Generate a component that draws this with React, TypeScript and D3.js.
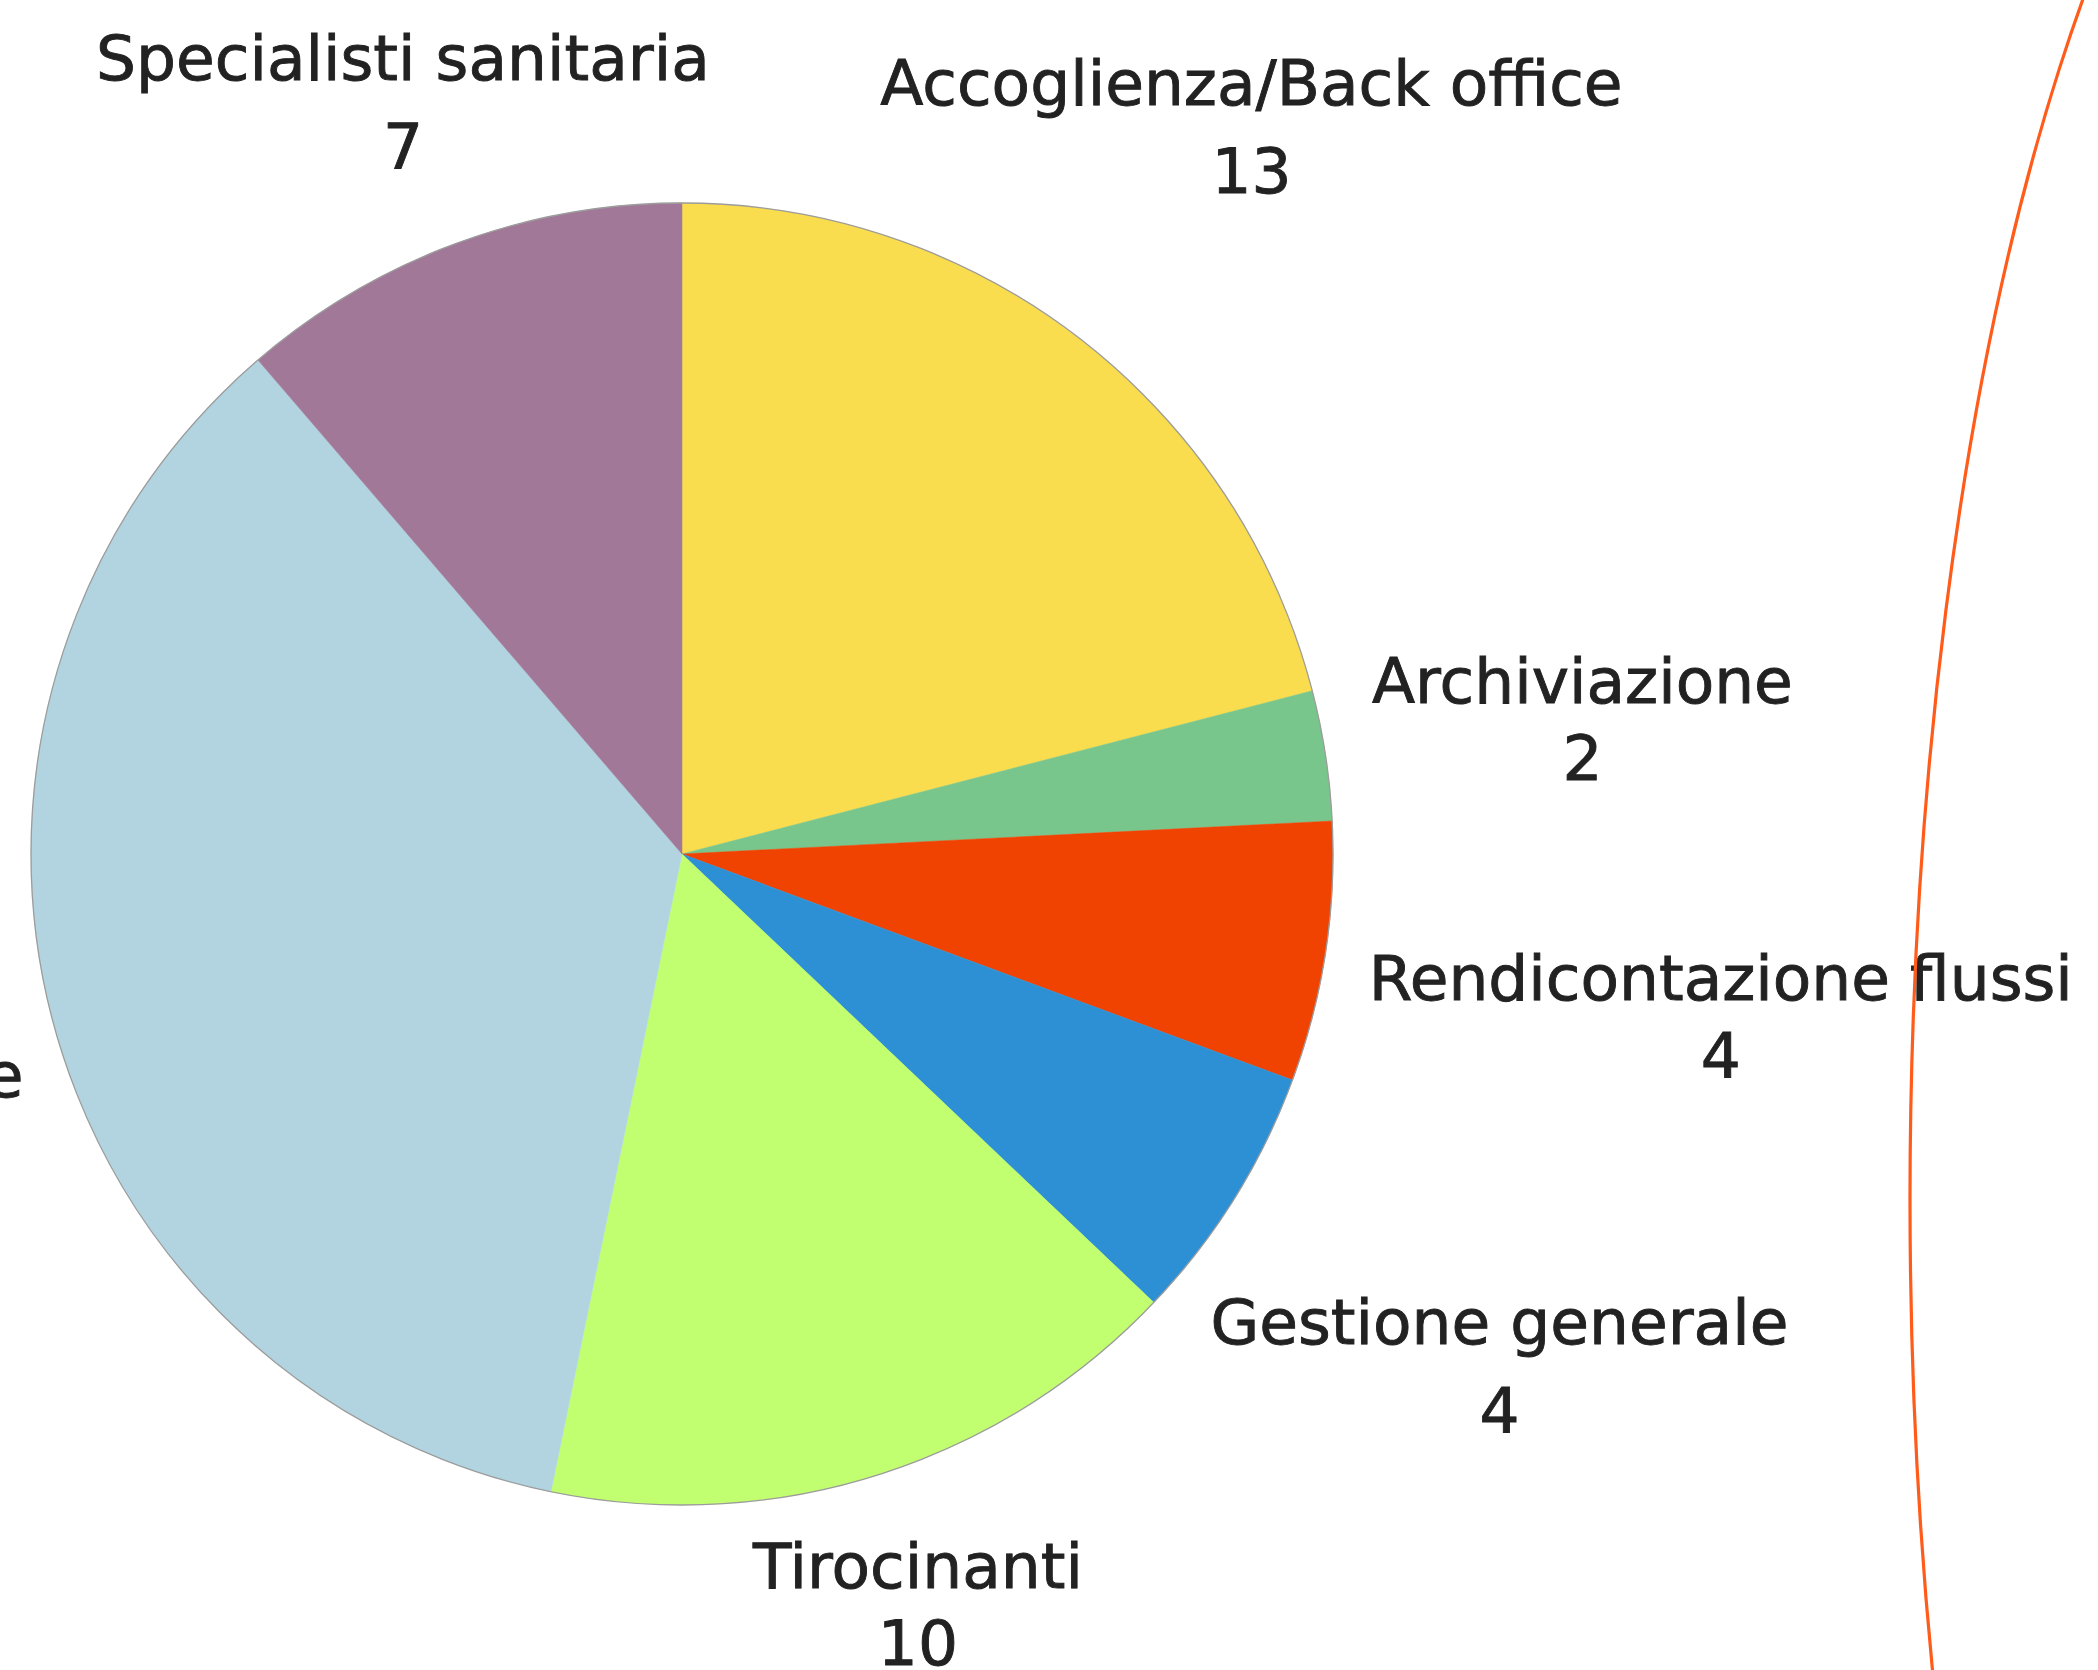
import React from "react";
import * as d3 from "d3";

// ---- data ----
const categories = [
  "Accoglienza/Back office",
  "Archiviazione",
  "Rendicontazione flussi",
  "Gestione generale",
  "Tirocinanti",
  "Attività amministrative",
  "Specialisti sanitaria",
];
const values = [13, 2, 4, 4, 10, 22, 7];
const colors = ["#FADC4F", "#79C68C", "#F04200", "#2D90D5", "#C2FF70", "#B1D4E0", "#A27899"];

// ---- label layout (polar: distance from centre, angle tweak in degrees, line gap) ----
const labelDist = [941, 913, 1049, 953, 771, 1049, 823];
const labelAngleOffset = [-0.5, -0.8, -0.7, -1.0, -0.4, 1.1, 0.5];
const labelLineGap = [88, 77, 78, 89, 77, 82, 88];

const W = 2098;
const H = 1670;
const CX = 682;
const CY = 854;
const R = 651;

export default function App() {
  const pie = d3.pie<number>().sort(null).startAngle(0).endAngle(2 * Math.PI);
  const arcs = pie(values);
  const arcGen = d3.arc<d3.PieArcDatum<number>>().innerRadius(0).outerRadius(R);

  const toRad = Math.PI / 180;

  return (
    <svg
      width={W}
      height={H}
      viewBox={`0 0 ${W} ${H}`}
      style={{ position: "absolute", left: 0, top: 0, background: "#ffffff" }}
    >
      <rect x={0} y={0} width={W} height={H} fill="#ffffff" />
      <g transform={`translate(${CX},${CY})`}>
        {arcs.map((a, i) => (
          <path key={i} d={arcGen(a) || ""} fill={colors[i]} stroke={colors[i]} strokeWidth={0.5} />
        ))}
        <circle r={R} fill="none" stroke="#9c9c9c" strokeWidth={1.3} />
        {arcs.map((a, i) => {
          const mid = (a.startAngle + a.endAngle) / 2 + labelAngleOffset[i] * toRad;
          const x = labelDist[i] * Math.sin(mid);
          const y = -labelDist[i] * Math.cos(mid);
          return (
            <g
              key={"l" + i}
              fontFamily="'DejaVu Sans', sans-serif"
              fontSize={63}
              fill="#222222"
              stroke="#222222"
              strokeWidth={0.9}
              textAnchor="middle"
            >
              <text x={x} y={y}>{categories[i]}</text>
              <text x={x} y={y + labelLineGap[i]}>{values[i]}</text>
            </g>
          );
        })}
      </g>
      <ellipse cx={2420} cy={1200} rx={510} ry={1600} fill="none" stroke="#FF5B1A" strokeWidth={3.2} />
    </svg>
  );
}
